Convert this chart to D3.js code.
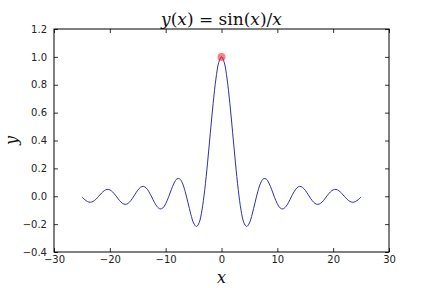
<!DOCTYPE html>
<html lang="en">
<head>
<meta charset="UTF-8">
<title>sinc</title>
<script src="https://d3js.org/d3.v7.min.js"></script>
<style>
    body { margin: 0; background: #fff; }
    .tick text { font-family: "DejaVu Sans", sans-serif; font-size: 10px; fill: #222; }
    .math { font-family: "DejaVu Serif", "Liberation Serif", serif; fill: #111; }
</style>
</head>
<body>
<svg width="432" height="288"></svg>
<script>
// samples of the curve, x = -25 .. 25 step 0.5
const xSamples = d3.range(-25, 25.001, 0.5);
const ySamples = [
  -0.005, -0.024, -0.038, -0.043, -0.037, -0.022, 0.000, 0.022, 0.040, 0.049,
  0.046, 0.031, 0.008, -0.019, -0.042, -0.056, -0.057, -0.043, -0.018, 0.013,
  0.043, 0.064, 0.071, 0.060, 0.032, -0.005, -0.045, -0.076, -0.091, -0.084,
  -0.054, -0.008, 0.046, 0.094, 0.124, 0.125, 0.094, 0.033, -0.047, -0.128,
  -0.192, -0.217, -0.189, -0.100, 0.047, 0.239, 0.455, 0.665, 0.841, 0.959,
  1.000,
  0.959, 0.841, 0.665, 0.455, 0.239, 0.047, -0.100, -0.189, -0.217, -0.192,
  -0.128, -0.047, 0.033, 0.094, 0.125, 0.124, 0.094, 0.046, -0.008, -0.054,
  -0.084, -0.091, -0.076, -0.045, -0.005, 0.032, 0.060, 0.071, 0.064, 0.043,
  0.013, -0.018, -0.043, -0.057, -0.056, -0.042, -0.019, 0.008, 0.031, 0.046,
  0.049, 0.040, 0.022, 0.000, -0.022, -0.037, -0.043, -0.038, -0.024, -0.005
];
const peakPoint = [0, 1];
const xTicks = [-30, -20, -10, 0, 10, 20, 30];
const yTicks = [-0.4, -0.2, 0.0, 0.2, 0.4, 0.6, 0.8, 1.0, 1.2];

const margin = { top: 29, right: 43, bottom: 36, left: 54 };
const width = 432, height = 288;
const w = width - margin.left - margin.right;
const h = height - margin.top - margin.bottom;

const svg = d3.select("svg");
const g = svg.append("g").attr("transform", `translate(${margin.left},${margin.top})`);

const x = d3.scaleLinear().domain([-30, 30]).range([0, w]);
const y = d3.scaleLinear().domain([-0.4, 1.2]).range([h, 0]);

const fmtX = d => d < 0 ? "\u2212" + Math.abs(d) : String(d);
const fmtY = d => d < 0 ? "\u2212" + Math.abs(d).toFixed(1) : d.toFixed(1);

function styleAxis(sel) {
    sel.select(".domain").remove();
    sel.selectAll(".tick line").attr("stroke", "#000").attr("stroke-width", 0.8);
}

// bottom and left with labels, ticks pointing inward
g.append("g").attr("transform", `translate(0,${h})`)
    .call(d3.axisBottom(x).tickValues(xTicks).tickFormat(fmtX).tickSizeInner(-4).tickSizeOuter(0).tickPadding(4))
    .call(styleAxis);
g.append("g")
    .call(d3.axisLeft(y).tickValues(yTicks).tickFormat(fmtY).tickSizeInner(-4).tickSizeOuter(0).tickPadding(7))
    .call(styleAxis);
// top and right, ticks only
g.append("g")
    .call(d3.axisTop(x).tickValues(xTicks).tickFormat("").tickSizeInner(-4).tickSizeOuter(0))
    .call(styleAxis);
g.append("g").attr("transform", `translate(${w},0)`)
    .call(d3.axisRight(y).tickValues(yTicks).tickFormat("").tickSizeInner(-4).tickSizeOuter(0))
    .call(styleAxis);

const pts = xSamples.map((v, i) => [v, ySamples[i]]);
const line = d3.line().x(d => x(d[0])).y(d => y(d[1])).curve(d3.curveCatmullRom);

g.append("path")
    .datum(pts)
    .attr("fill", "none")
    .attr("stroke", "#2f2fb0")
    .attr("stroke-width", 1)
    .attr("d", line);

g.append("circle")
    .attr("cx", x(peakPoint[0]))
    .attr("cy", y(peakPoint[1]))
    .attr("r", 4)
    .attr("fill", "red")
    .attr("fill-opacity", 0.5);

g.append("rect")
    .attr("width", w).attr("height", h)
    .attr("fill", "none").attr("stroke", "#000").attr("stroke-width", 1);

// title and axis labels
svg.append("text").attr("class", "math")
    .attr("x", margin.left + w / 2).attr("y", 25)
    .attr("text-anchor", "middle").attr("font-size", 17)
    .html('<tspan font-style="italic">y</tspan>(<tspan font-style="italic">x</tspan>) = sin(<tspan font-style="italic">x</tspan>)/<tspan font-style="italic">x</tspan>');

svg.append("text").attr("class", "math")
    .attr("x", margin.left + w / 2).attr("y", 283)
    .attr("text-anchor", "middle").attr("font-size", 16).attr("font-style", "italic")
    .text("x");

svg.append("text").attr("class", "math")
    .attr("transform", `translate(17,${margin.top + h / 2}) rotate(-90)`)
    .attr("text-anchor", "middle").attr("font-size", 16).attr("font-style", "italic")
    .text("y");
</script>
</body>
</html>
